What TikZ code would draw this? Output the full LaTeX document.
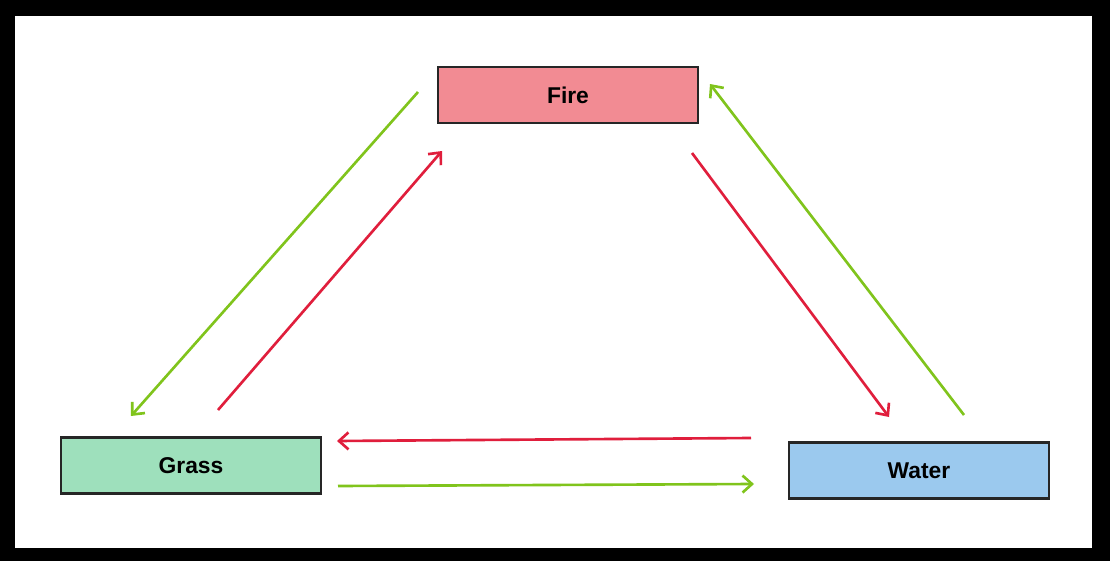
\documentclass[tikz,border=0pt]{standalone}
\usepackage{fontspec}
\setmainfont{Liberation Sans}
\usepackage{xcolor}
\usetikzlibrary{arrows.meta,positioning}
\definecolor{firefill}{HTML}{F28B93}
\definecolor{grassfill}{HTML}{9EE0BC}
\definecolor{waterfill}{HTML}{9BC9EE}
\definecolor{boxline}{HTML}{262626}
\definecolor{beatred}{HTML}{E01E3C}
\definecolor{beatgreen}{HTML}{80C41C}
\tikzset{
  typebox/.style={rectangle,draw=boxline,line width=1.6pt,minimum width=5.2cm,minimum height=1.12cm,inner sep=0pt,font=\fontsize{13}{15}\selectfont\bfseries},
  firebox/.style={typebox,fill=firefill},
  grassbox/.style={typebox,fill=grassfill},
  waterbox/.style={typebox,fill=waterfill},
  rededge/.style={-{Straight Barb[length=1.9mm,width=3.4mm]},line width=1.5pt,beatred},
  greenedge/.style={-{Straight Barb[length=1.9mm,width=3.4mm]},line width=1.5pt,beatgreen},
}
\begin{document}
\begin{tikzpicture}[x=0.02cm,y=-0.02cm]
  \fill[black] (0,0) rectangle (1110,561);
  \fill[white] (15,16) rectangle (1092,548);
  \node[firebox] (nFire) at (568,95) {Fire};
  \node[grassbox] (nGrass) at (191,465.5) {Grass};
  \node[waterbox] (nWater) at (919,470.5) {Water};
  \coordinate (cFG1) at (418,92);
  \coordinate (cFG2) at (131,416);
  \coordinate (cGF1) at (218,410);
  \coordinate (cGF2) at (442,151);
  \coordinate (cFW1) at (692,153);
  \coordinate (cFW2) at (889,417);
  \coordinate (cWF1) at (964,415);
  \coordinate (cWF2) at (710,84);
  \coordinate (cWG1) at (751,438);
  \coordinate (cWG2) at (337,441);
  \coordinate (cGW1) at (338,486);
  \coordinate (cGW2) at (754,484);
  \draw[greenedge] (cFG1) -- (cFG2);
  \draw[rededge] (cGF1) -- (cGF2);
  \draw[rededge] (cFW1) -- (cFW2);
  \draw[greenedge] (cWF1) -- (cWF2);
  \draw[rededge] (cWG1) -- (cWG2);
  \draw[greenedge] (cGW1) -- (cGW2);
\end{tikzpicture}
\end{document}
